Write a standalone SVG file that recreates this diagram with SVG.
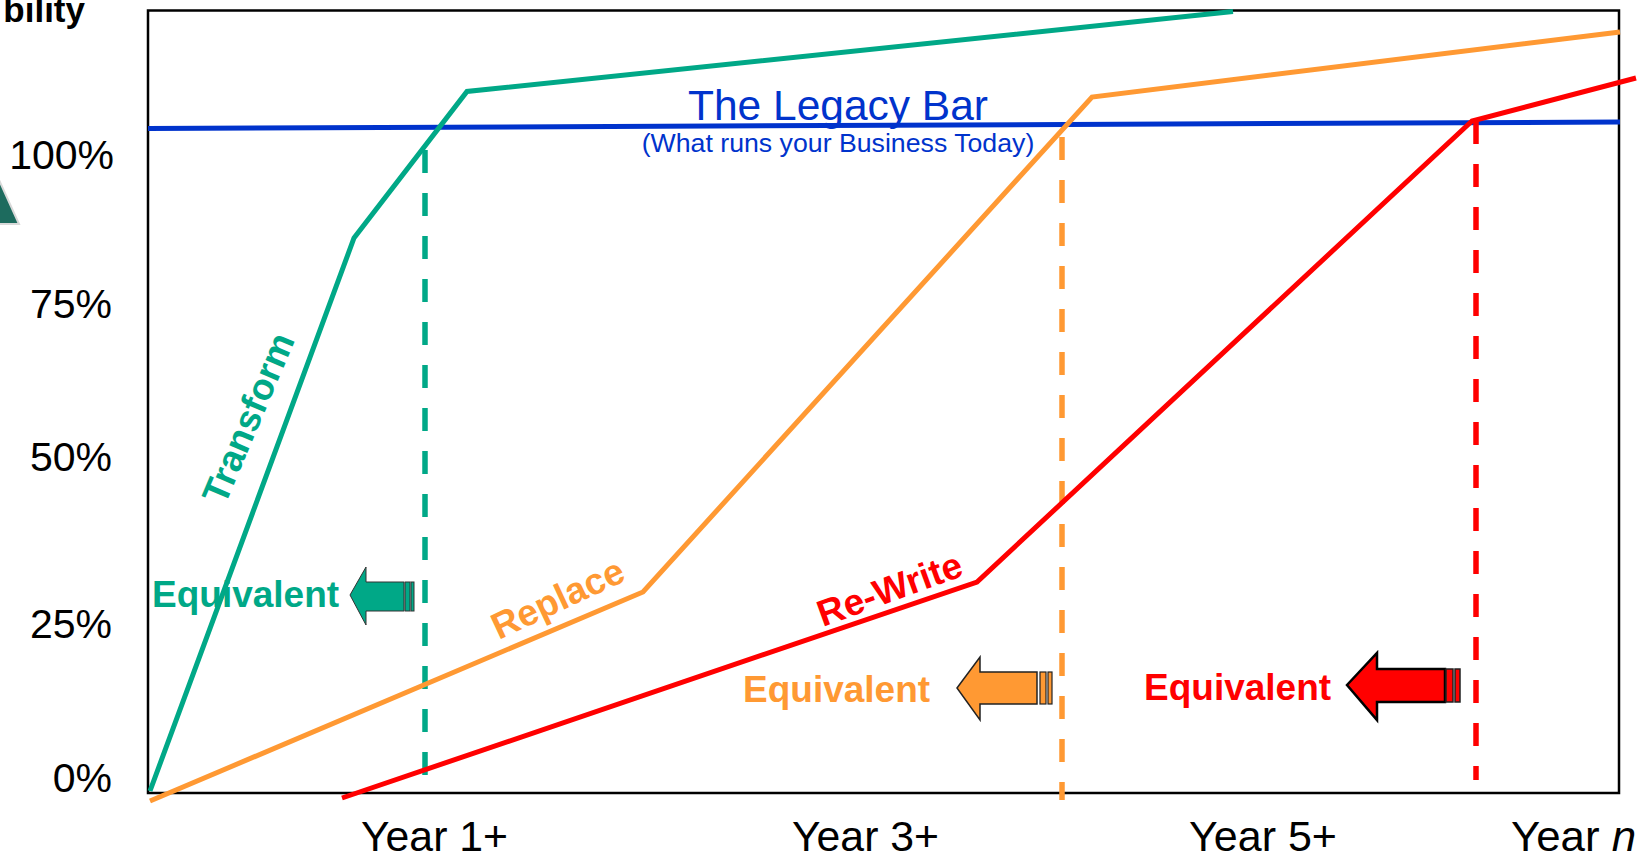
<svg xmlns="http://www.w3.org/2000/svg" width="1649" height="859" viewBox="0 0 1649 859">
<style>
text{font-family:"Liberation Sans",Arial,sans-serif}
.ax{font-size:41px;fill:#000}
.yr{font-size:42px;fill:#000}
.lbl{font-size:37px;font-weight:bold}
.ln{fill:none;stroke-width:5;stroke-linejoin:miter}
.dash{fill:none;stroke-width:5.5;stroke-dasharray:23 20}
.t{fill:#00a887}.o{fill:#ff9933}.r{fill:#ff0000}
</style>
<rect width="1649" height="859" fill="#fff"/>
<g id="title"><text x="85" y="22" style="font-size:35px;font-weight:bold" text-anchor="end">bility</text></g>
<g id="marker-triangle"><polygon points="-10,160 19,224 -40,224" fill="#1d6b5e" stroke="#d9d9d9" stroke-width="2"/></g>
<g id="frame"><rect x="148" y="10.5" width="1471" height="782.5" fill="none" stroke="#000" stroke-width="2.5"/></g>
<g id="y-axis-labels" class="ax" text-anchor="end">
<text x="114" y="169">100%</text>
<text x="112" y="318">75%</text>
<text x="112" y="471">50%</text>
<text x="112" y="638">25%</text>
<text x="112" y="792">0%</text>
</g>
<g id="x-axis-labels" class="yr">
<text x="361" y="851" textLength="147" lengthAdjust="spacingAndGlyphs">Year 1+</text>
<text x="792" y="851" textLength="147" lengthAdjust="spacingAndGlyphs">Year 3+</text>
<text x="1189" y="851" textLength="148" lengthAdjust="spacingAndGlyphs">Year 5+</text>
<text x="1511" y="851" textLength="125" lengthAdjust="spacingAndGlyphs">Year <tspan font-style="italic">n</tspan></text>
</g>
<g id="connectors">
<line x1="148" y1="128.5" x2="1620" y2="122" stroke="#0033cc" stroke-width="5"/>
<line x1="425" y1="150" x2="425" y2="792" stroke="#00a887" class="dash"/>
<line x1="1062" y1="137" x2="1062" y2="800" stroke="#ff9933" class="dash"/>
<line x1="1476" y1="121" x2="1476" y2="780" stroke="#ff0000" class="dash"/>
<polyline class="ln" stroke="#00a887" points="150,791 354,238 467,91.5 1233,11.5"/>
<polyline class="ln" stroke="#ff9933" points="150,801 643,592 1092,97 1620,32"/>
<polyline class="ln" stroke="#ff0000" points="342,798 977,582 1472,121 1636,78"/>
</g>
<g id="legacy-bar-label" fill="#0033cc" text-anchor="middle">
<text x="838" y="120" style="font-size:42.5px">The Legacy Bar</text>
<text x="838" y="152" style="font-size:26.7px">(What runs your Business Today)</text>
</g>
<g id="transform-label"><text class="lbl t" text-anchor="middle" transform="translate(260,423) rotate(-67)">Transform</text></g>
<g id="replace-label"><text class="lbl o" text-anchor="middle" transform="translate(563,610) rotate(-25)">Replace</text></g>
<g id="rewrite-label"><text class="lbl r" text-anchor="middle" transform="translate(894,601) rotate(-20)">Re-Write</text></g>
<g id="equivalent-transform">
<text class="lbl t" x="152" y="607">Equivalent</text>
<polygon points="350,595 366,567 366,582 404,582 404,611 366,611 366,625" fill="#00a887" stroke="#333" stroke-width="1"/>
<rect x="405" y="582" width="5" height="29" fill="#00a887" stroke="#333" stroke-width="1"/>
<rect x="411" y="582" width="3" height="29" fill="#00a887" stroke="#333" stroke-width="1"/>
</g>
<g id="equivalent-replace">
<text class="lbl o" x="743" y="702">Equivalent</text>
<polygon points="957,688 980,657 980,672 1037,672 1037,704 980,704 980,720" fill="#ff9933" stroke="#222" stroke-width="1.5"/>
<rect x="1040" y="672" width="6" height="32" fill="#ff9933" stroke="#222" stroke-width="1.2"/>
<rect x="1048" y="672" width="4" height="32" fill="#ff9933" stroke="#222" stroke-width="1.2"/>
</g>
<g id="equivalent-rewrite">
<text class="lbl r" x="1144" y="700">Equivalent</text>
<polygon points="1347,685 1377,653 1377,669 1445,669 1445,702 1377,702 1377,720" fill="#ff0000" stroke="#000" stroke-width="2.5"/>
<rect x="1446" y="669" width="7" height="33" fill="#ff0000" stroke="#222" stroke-width="1.5"/>
<rect x="1455" y="669" width="5" height="33" fill="#ff0000" stroke="#222" stroke-width="1.5"/>
</g>
</svg>
